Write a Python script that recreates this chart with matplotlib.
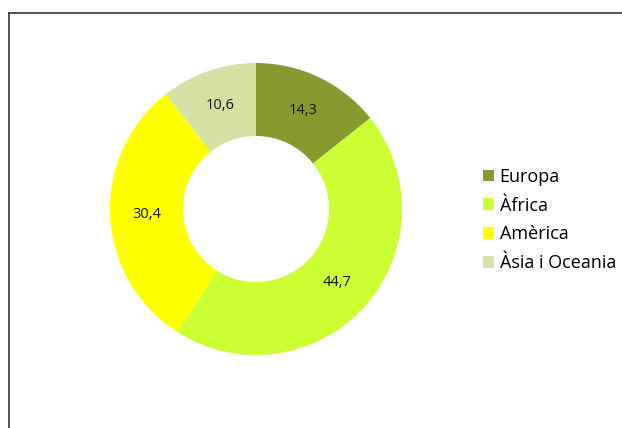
import matplotlib
matplotlib.use('Agg')
import matplotlib.pyplot as plt
from matplotlib.lines import Line2D
import numpy as np

plt.rcParams['font.family'] = ['Open Sans', 'DejaVu Sans']

# data
regions = ['Europa', 'Àfrica', 'Amèrica', 'Àsia i Oceania']
values = [14.3, 44.7, 30.4, 10.6]
labels = ['14,3', '44,7', '30,4', '10,6']
colors = ['#869A2F', '#CCFF33', '#FFFF00', '#D4E1A2']

W, H = 622, 428
fig = plt.figure(figsize=(W / 100, H / 100), dpi=100)

# frame (only top and left visible, rest runs off the image)
fig.add_artist(Line2D([8.5 / W, 8.5 / W], [0, 1 - 12.5 / H], color='#444444', lw=1.3))
fig.add_artist(Line2D([8.5 / W, 1], [1 - 12.5 / H, 1 - 12.5 / H], color='#444444', lw=1.3))

# donut
cx, cy, r = 256, 209, 146
ax = fig.add_axes([(cx - r) / W, (H - cy - r) / H, 2 * r / W, 2 * r / H])
wedges, _ = ax.pie(values, colors=colors, startangle=90, counterclock=False,
                   radius=1, wedgeprops=dict(width=0.5, linewidth=0))
ax.set_xlim(-1, 1)
ax.set_ylim(-1, 1)
ax.set_aspect('equal')
ax.axis('off')

start = 90
for v, lab in zip(values, labels):
    mid = np.deg2rad(start - v * 3.6 / 2)
    ax.text(0.75 * np.cos(mid), 0.75 * np.sin(mid), lab, ha='center', va='center',
            fontsize=10.5, color='#111111')
    start -= v * 3.6

fig.legend(wedges, regions, loc='center left', bbox_to_anchor=(483 / W, 1 - 220 / H),
           frameon=False, fontsize=13, handlelength=0.62, handleheight=0.62,
           handletextpad=0.3, labelspacing=0.6, borderaxespad=0, borderpad=0)

fig.savefig('out.png', dpi=100)
